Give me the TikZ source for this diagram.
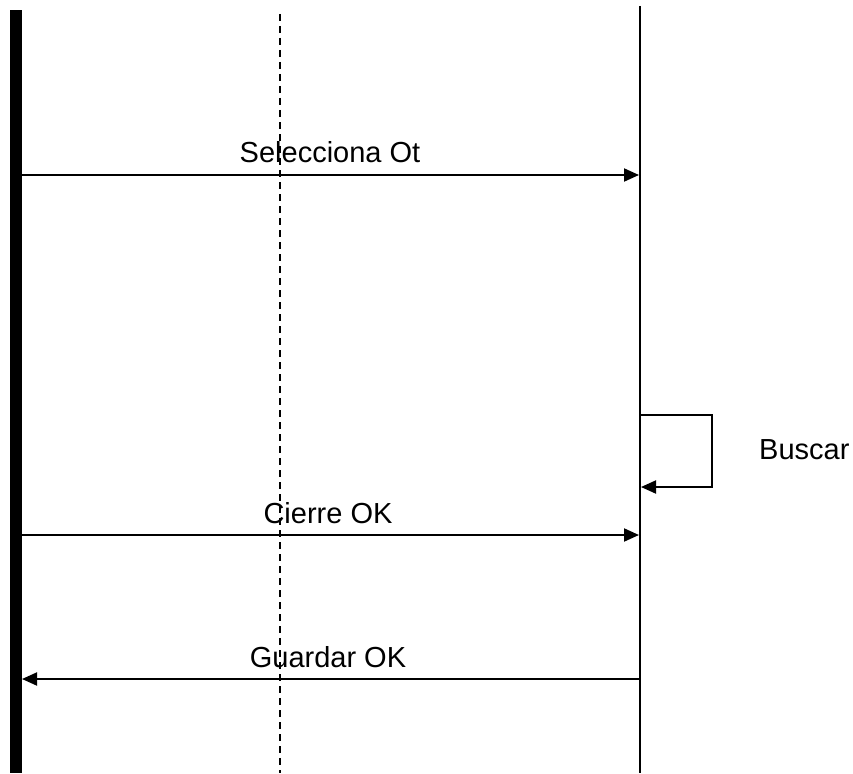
\documentclass[tikz,border=0pt]{standalone}
\usepackage{fontspec}
\setmainfont{Liberation Sans}
\usetikzlibrary{arrows.meta}
\begin{document}
\begin{tikzpicture}[x=1pt,y=-1pt,
  msg/.style={line width=2pt,-{Triangle[length=15pt,width=13pt]}},
  lbl/.style={font=\fontsize{29}{35}\selectfont,inner sep=0pt},
  life/.style={line width=1.8pt},
  dashlife/.style={line width=1.3pt,dash pattern=on 7pt off 5pt}]
\useasboundingbox (0,0) rectangle (853,773);
% actor bar
\node[fill=black,minimum width=12pt,minimum height=763pt,inner sep=0pt,outer sep=0pt,anchor=north west] (actor) at (10,10) {};
% dashed lifeline
\coordinate (dtop) at (280,14);
\coordinate (dbot) at (280,773);
\draw[dashlife] (dtop) -- (dbot);
% right lifeline
\coordinate (ltop) at (640,6);
\coordinate (lbot) at (640,773);
\draw[life] (ltop) -- (lbot);
% message 1
\coordinate (m1s) at (22,175);
\coordinate (m1e) at (639,175);
\draw[msg] (m1s) -- (m1e);
\node[lbl,anchor=base] (t1) at (330,162) {Selecciona Ot};
% self loop
\coordinate (s1) at (640,415);
\coordinate (s2) at (712,415);
\coordinate (s3) at (712,487);
\coordinate (s4) at (641,487);
\draw[msg] (s1) -- (s2) -- (s3) -- (s4);
\node[lbl,anchor=base west] (tb) at (759,459) {Buscar};
% message 2
\coordinate (m2s) at (22,535);
\coordinate (m2e) at (639,535);
\draw[msg] (m2s) -- (m2e);
\node[lbl,anchor=base] (t2) at (328,523) {Cierre OK};
% message 3
\coordinate (m3s) at (640,679);
\coordinate (m3e) at (22,679);
\draw[msg] (m3s) -- (m3e);
\node[lbl,anchor=base] (t3) at (328,667) {Guardar OK};
\end{tikzpicture}
\end{document}
